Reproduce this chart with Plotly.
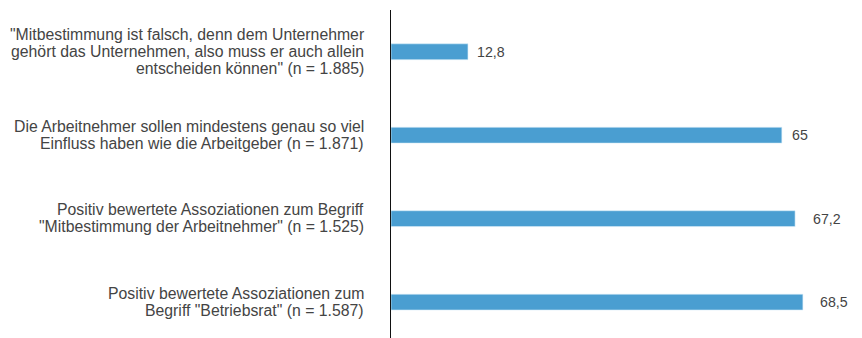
import plotly.graph_objects as go

# Zustimmung zur Mitbestimmung, Anteile in Prozent
categories = [
    '"Mitbestimmung ist falsch, denn dem Unternehmer<br>gehört das Unternehmen, also muss er auch allein<br>entscheiden können" (n = 1.885)',
    'Die Arbeitnehmer sollen mindestens genau so viel<br>Einfluss haben wie die Arbeitgeber (n = 1.871)',
    'Positiv bewertete Assoziationen zum Begriff<br>"Mitbestimmung der Arbeitnehmer" (n = 1.525)',
    'Positiv bewertete Assoziationen zum<br>Begriff "Betriebsrat" (n = 1.587)',
]
values = [12.8, 65, 67.2, 68.5]
value_labels = ["12,8", "65", "67,2", "68,5"]

BAR_COLOR = "#4a9ed1"
TEXT_COLOR = "#444444"
FONT = "Liberation Sans, Arial, sans-serif"
CAT_SIZE = 15.8
VAL_SIZE = 14.2
LINE_STEP = 17
label_gap = [7, 8, 16, 15]

fig = go.Figure()
fig.add_trace(go.Bar(
    x=values,
    y=list(range(len(categories))),
    orientation="h",
    width=0.19,
    marker=dict(color=BAR_COLOR, line=dict(color="#d8ecf8", width=0.6)),
    hoverinfo="skip",
))

# value labels right of each bar
for i, (v, t) in enumerate(zip(values, value_labels)):
    fig.add_annotation(
        x=v, y=i, text=t, showarrow=False,
        xanchor="left", yanchor="middle", xshift=label_gap[i],
        font=dict(family=FONT, size=VAL_SIZE, color=TEXT_COLOR),
    )

# category labels, one annotation per line for tighter leading
for i, cat in enumerate(categories):
    lines = cat.split("<br>")
    n = len(lines)
    for j, line in enumerate(lines):
        fig.add_annotation(
            xref="paper", x=0, y=i, text=line, showarrow=False,
            xanchor="right", yanchor="middle", xshift=-25,
            yshift=((n - 1) / 2 - j) * LINE_STEP + 0.5,
            font=dict(family=FONT, size=CAT_SIZE, color=TEXT_COLOR),
        )

fig.update_layout(
    width=862, height=338,
    margin=dict(l=391, r=11, t=10, b=0),
    paper_bgcolor="white", plot_bgcolor="white",
    showlegend=False,
    font=dict(family=FONT, size=13, color=TEXT_COLOR),
    xaxis=dict(range=[0, 76.5], visible=False, fixedrange=True),
    yaxis=dict(
        range=[3.43, -0.5],
        showticklabels=False,
        showline=True, linecolor="#111111", linewidth=1.3,
        showgrid=False, zeroline=False, ticks="",
        fixedrange=True,
    ),
)

fig.write_html("out.html")
